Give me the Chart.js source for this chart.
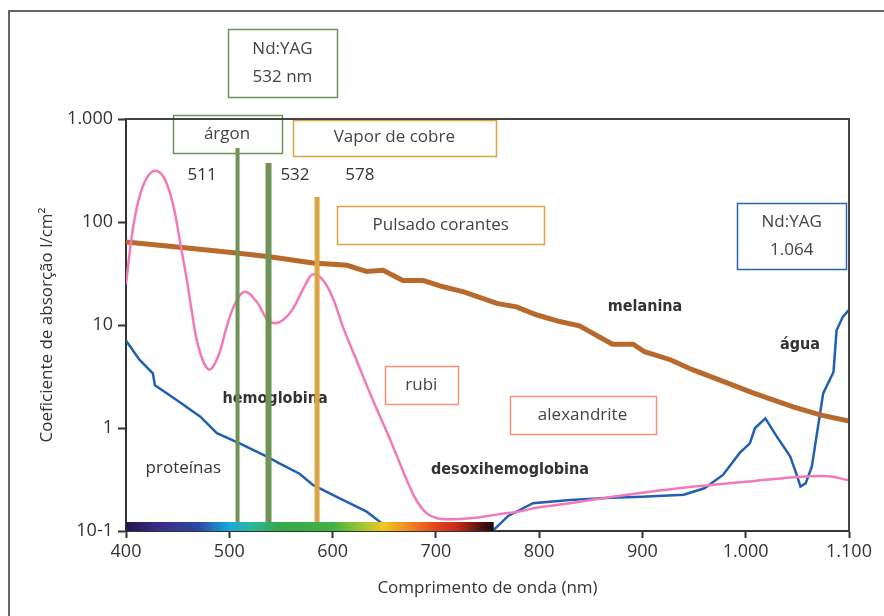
<!DOCTYPE html>
<html>
<head>
<meta charset="utf-8">
<script src="https://cdn.jsdelivr.net/npm/chart.js@4.4.0/dist/chart.umd.min.js"></script>
<style>
  html, body { margin: 0; padding: 0; background: #fff; }
</style>
</head>
<body>
<canvas id="mycanvas" width="884" height="616"></canvas>
<script>
// axis ticks
var xTicks = [400, 500, 600, 700, 800, 900, 1000, 1100];
var xTickLabels = ['400', '500', '600', '700', '800', '900', '1.000', '1.100'];
var yTicks = [0.1, 1, 10, 100, 1000];
var yTickLabels = ['10-1', '1', '10', '100', '1.000'];

// melanina
var melaninaNm  = [400, 452, 507, 539, 581, 614, 633, 649, 668, 688, 707, 727, 759, 778, 798, 820, 839, 871, 891, 902, 927, 949, 975, 1007, 1046, 1072, 1100];
var melaninaVal = [64, 57, 50, 46, 40, 38, 33, 34, 27, 27, 23.5, 21, 16.2, 15, 12.5, 10.8, 9.8, 6.5, 6.5, 5.5, 4.6, 3.66, 2.92, 2.19, 1.6, 1.34, 1.17];

// hemoglobina / desoxihemoglobina
var hemoNm  = [400, 407, 414, 422, 430, 438, 446, 452, 459, 464, 470, 480, 489, 497.5, 505.5, 515, 526.5, 536, 544, 552, 561, 574, 581, 591, 601, 610, 623, 639, 656, 672, 681, 691, 701, 714, 733, 760, 781, 800, 830, 850, 900, 950, 1000, 1050, 1080, 1100];
var hemoVal = [25, 90, 190, 286, 313, 256, 141, 67, 27, 13, 6.2, 3.7, 4.9, 9.6, 16, 21, 16.8, 11.6, 10.4, 11.2, 14, 25, 31, 27, 17.5, 9.6, 4.6, 1.87, 0.76, 0.31, 0.2, 0.149, 0.133, 0.13, 0.133, 0.145, 0.155, 0.17, 0.186, 0.2, 0.235, 0.27, 0.3, 0.335, 0.34, 0.31];

// proteinas
var protNm  = [400, 402, 413, 426, 428, 449, 472, 488, 510, 536, 549, 568, 581, 604, 633, 648, 653];
var protVal = [7.1, 6.6, 4.6, 3.4, 2.6, 1.87, 1.29, 0.89, 0.71, 0.53, 0.45, 0.36, 0.28, 0.215, 0.154, 0.118, 0.1];

// agua
var aguaNm  = [755, 770, 794, 830, 870, 900, 940, 960, 978, 994, 1004, 1009, 1019, 1030, 1043, 1049, 1053, 1058, 1064, 1075, 1085, 1088, 1094, 1100];
var aguaVal = [0.1, 0.14, 0.186, 0.2, 0.21, 0.215, 0.225, 0.26, 0.35, 0.57, 0.71, 1.0, 1.24, 0.83, 0.53, 0.36, 0.27, 0.29, 0.42, 2.17, 3.5, 8.9, 12, 14];

// laser lines: position (nm) and top value
var laserNm  = [508, 538, 585];
var laserTop = [522, 374, 175];
var laserColors = ['#6f9257', '#6f9257', '#dca445'];
var laserWidths = [4, 6, 5];

var spectrumStops = [
  [400, '#24164a'], [430, '#3b2a86'], [470, '#2b49a3'], [500, '#17a9dc'], [520, '#2bb6a0'],
  [550, '#37a94a'], [600, '#3fb143'], [630, '#a6c731'], [650, '#f0c61f'], [672, '#f08d21'],
  [700, '#e5431f'], [722, '#be2a18'], [742, '#5a1410'], [756, '#1e0806']
];

var boxes = [
  { lines: ['Nd:YAG', '532 nm'], nm: 551.5, v: 3500, w: 109, h: 68, color: '#6f9257' },
  { lines: ['árgon'], nm: 497.8, v: 714, w: 109, h: 38, color: '#6f9257' },
  { lines: ['Vapor de cobre'], nm: 659.8, v: 661, w: 203, h: 36, color: '#dca445' },
  { lines: ['Pulsado corantes'], nm: 704.7, v: 94, w: 207, h: 38, color: '#dca445' },
  { lines: ['Nd:YAG', '1.064'], nm: 1044.5, v: 72.6, w: 109, h: 66, color: '#2b63b0' },
  { lines: ['rubi'], nm: 685.9, v: 2.61, w: 73, h: 38, color: '#f4937a' },
  { lines: ['alexandrite'], nm: 842, v: 1.34, w: 146, h: 38, color: '#f4937a' }
];

var labels = [
  { text: '511', nm: 473.7, v: 282, bold: false },
  { text: '532', nm: 563.6, v: 282, bold: false },
  { text: '578', nm: 626.5, v: 282, bold: false },
  { text: 'melanina', nm: 902.5, v: 15.1, bold: true },
  { text: 'água', nm: 1052.5, v: 6.4, bold: true },
  { text: 'hemoglobina', nm: 544.3, v: 1.94, bold: true },
  { text: 'proteínas', nm: 455.5, v: 0.406, bold: false },
  { text: 'desoxihemoglobina', nm: 771.8, v: 0.39, bold: true }
];

var txtFont = '"Open Sans", sans-serif';
var boldFont = '"Liberation Sans Narrow", "DejaVu Sans Condensed", sans-serif';

function pts(xs, ys) {
  var out = [];
  for (var i in xs) out.push({ x: xs[i], y: ys[i] });
  return out;
}

var datasets = [];
for (var i in laserNm) {
  datasets.push({
    data: [{ x: laserNm[i], y: 0.1 }, { x: laserNm[i], y: laserTop[i] }],
    borderColor: laserColors[i], borderWidth: laserWidths[i], pointRadius: 0
  });
}
datasets.push({ data: pts(hemoNm, hemoVal), borderColor: '#f27ab8', borderWidth: 2.5, pointRadius: 0, tension: 0.4 });
datasets.push({ data: pts(melaninaNm, melaninaVal), borderColor: '#b8692c', borderWidth: 5, pointRadius: 0, tension: 0 });
datasets.push({ data: pts(protNm, protVal), borderColor: '#2160b0', borderWidth: 2.5, pointRadius: 0, tension: 0 });
datasets.push({ data: pts(aguaNm, aguaVal), borderColor: '#2160b0', borderWidth: 2.5, pointRadius: 0, tension: 0 });

var decor = {
  id: 'decor',
  beforeDraw: function(chart) {
    var c = chart.ctx;
    c.save();
    c.strokeStyle = '#666';
    c.lineWidth = 2;
    c.beginPath();
    c.moveTo(9, 616); c.lineTo(9, 11); c.lineTo(884, 11);
    c.stroke();
    c.restore();
  },
  beforeDatasetsDraw: function(chart) {
    var c = chart.ctx, xs = chart.scales.x, ys = chart.scales.y;
    c.save();
    c.textAlign = 'center';
    c.textBaseline = 'middle';
    boxes.forEach(function(b) {
      var cx = xs.getPixelForValue(b.nm), cy = ys.getPixelForValue(b.v);
      c.strokeStyle = b.color;
      c.lineWidth = 1.5;
      c.strokeRect(Math.round(cx - b.w / 2) + 0.5, Math.round(cy - b.h / 2) + 0.5, b.w, b.h);
      c.fillStyle = '#444';
      c.font = '17px ' + txtFont;
      var n = b.lines.length;
      b.lines.forEach(function(t, k) {
        c.fillText(t, cx, cy + (k - (n - 1) / 2) * 28);
      });
    });
    labels.forEach(function(l) {
      c.fillStyle = '#333';
      c.font = (l.bold ? 'bold 16px ' + boldFont : '17px ' + txtFont);
      c.fillText(l.text, xs.getPixelForValue(l.nm), ys.getPixelForValue(l.v));
    });
    c.restore();
  },
  afterDatasetsDraw: function(chart) {
    var c = chart.ctx, xs = chart.scales.x, a = chart.chartArea;
    var x0 = xs.getPixelForValue(spectrumStops[0][0]);
    var x1 = xs.getPixelForValue(spectrumStops[spectrumStops.length - 1][0]);
    var g = c.createLinearGradient(x0, 0, x1, 0);
    spectrumStops.forEach(function(s) {
      g.addColorStop((xs.getPixelForValue(s[0]) - x0) / (x1 - x0), s[1]);
    });
    c.save();
    c.fillStyle = g;
    c.fillRect(x0, a.bottom - 9, x1 - x0, 9);
    c.strokeStyle = '#444';
    c.lineWidth = 2;
    c.beginPath();
    c.moveTo(a.left, a.top); c.lineTo(a.right, a.top); c.lineTo(a.right, a.bottom);
    c.stroke();
    c.restore();
  }
};

var ctx = document.getElementById('mycanvas');
var chart = new Chart(ctx, {
  type: 'line',
  data: { datasets: datasets },
  plugins: [decor],
  options: {
    responsive: false,
    animation: false,
    devicePixelRatio: 1,
    layout: { padding: { left: 0, top: 119, right: 35, bottom: 0 } },
    plugins: { legend: { display: false }, tooltip: { enabled: false } },
    scales: {
      x: {
        type: 'linear', min: 400, max: 1100,
        afterBuildTicks: function(s) { s.ticks = xTicks.map(function(v) { return { value: v }; }); },
        afterFit: function(s) { s.height = 85; },
        ticks: {
          padding: 3, color: '#333', font: { family: txtFont, size: 18 },
          callback: function(v, i) { return xTickLabels[i]; }
        },
        grid: { drawOnChartArea: false, tickLength: 7, tickColor: '#333', tickWidth: 2 },
        border: { color: '#333', width: 2 },
        title: { display: true, text: 'Comprimento de onda (nm)', color: '#333', font: { family: txtFont, size: 17 }, padding: { bottom: 18 } }
      },
      y: {
        type: 'logarithmic', min: 0.1, max: 1000,
        afterBuildTicks: function(s) { s.ticks = yTicks.map(function(v) { return { value: v }; }); },
        afterFit: function(s) { s.width = 126; },
        ticks: {
          padding: 5, color: '#333', font: { family: txtFont, size: 18 },
          callback: function(v, i) { return yTickLabels[i]; }
        },
        grid: { drawOnChartArea: false, tickLength: 8, tickColor: '#333', tickWidth: 2 },
        border: { color: '#333', width: 2 },
        title: { display: true, text: 'Coeficiente de absorção l/cm²', color: '#333', font: { family: txtFont, size: 17 }, padding: { top: 37 } }
      }
    }
  }
});
</script>
</body>
</html>
